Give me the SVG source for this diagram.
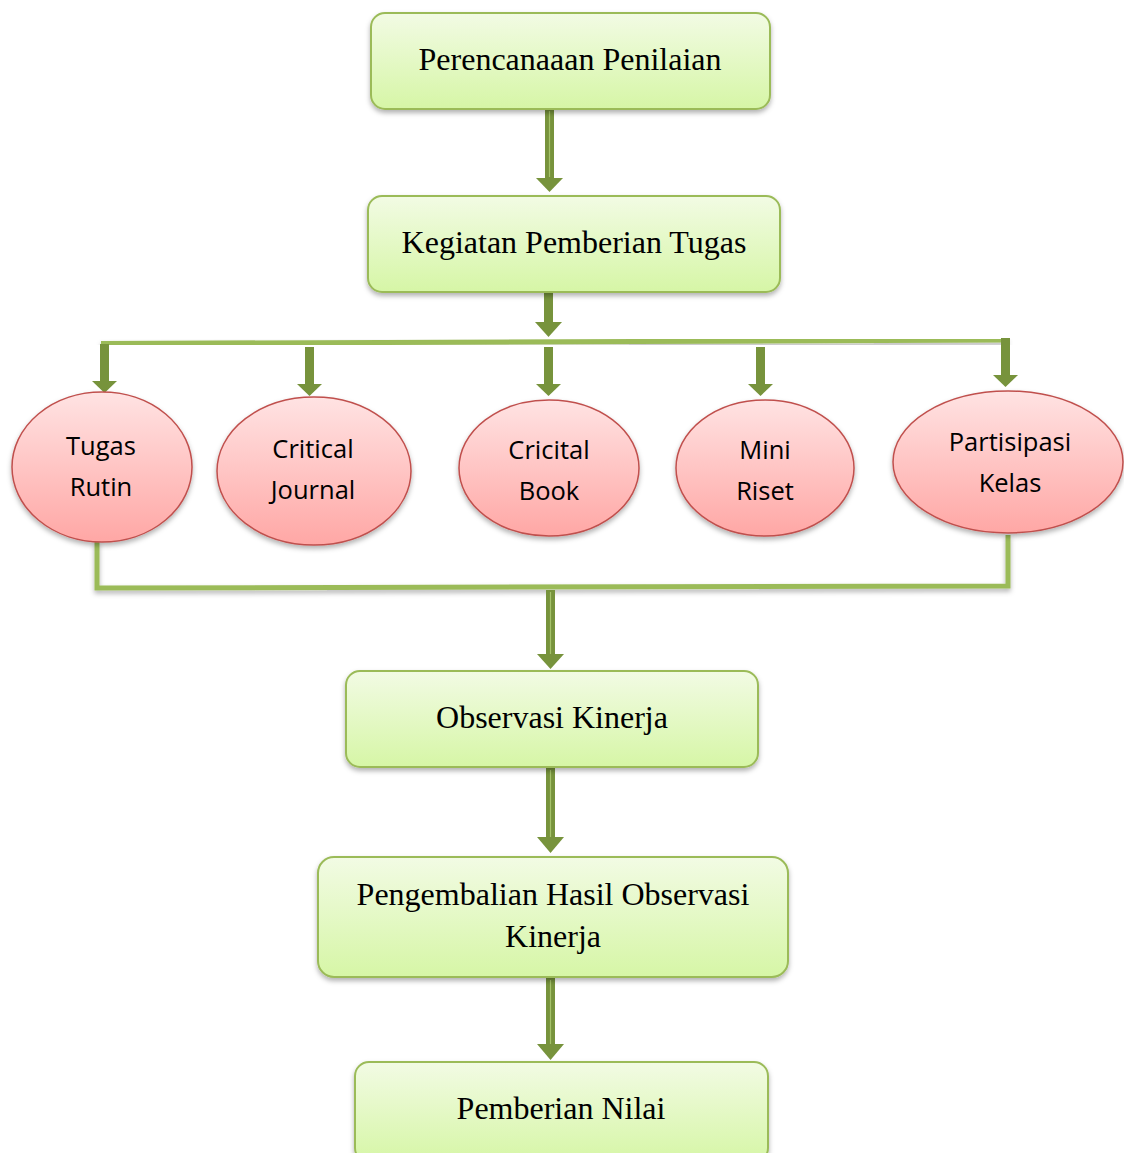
<svg xmlns="http://www.w3.org/2000/svg" width="1124" height="1153" viewBox="0 0 1124 1153">
<defs>
<linearGradient id="gBox" x1="0" y1="0" x2="0" y2="1">
<stop offset="0" stop-color="#F2FBE4"/>
<stop offset="1" stop-color="#D6F6A6"/>
</linearGradient>
<linearGradient id="gEll" x1="0" y1="0" x2="0" y2="1">
<stop offset="0" stop-color="#FFE3E3"/>
<stop offset="1" stop-color="#FFA7A5"/>
</linearGradient>
<filter id="sh" x="-10%" y="-10%" width="120%" height="130%">
<feDropShadow dx="0" dy="3" stdDeviation="2.5" flood-color="#000" flood-opacity="0.3"/>
</filter>
</defs>
<style>
.box{fill:url(#gBox);stroke:#9BBB59;stroke-width:2;filter:url(#sh)}
.ell{fill:url(#gEll);stroke:#C0504D;stroke-width:1.5;filter:url(#sh)}
.bt{font-family:"Liberation Serif","Times New Roman",serif;font-size:32px;fill:#000;text-anchor:middle}
.et{font-family:"Open Sans","Liberation Sans",sans-serif;font-size:25.5px;fill:#000;text-anchor:middle}
.bar{fill:none;stroke:#9BBB59;stroke-width:5;filter:url(#sh)}
.shaft{fill:#77933C}
.hl{stroke:#A5C26A;stroke-width:1.2}
</style>

<g id="connectors">
<g id="a1"><rect class="shaft" x="545" y="109" width="9" height="70"/><line class="hl" x1="549.5" y1="111" x2="549.5" y2="177"/><polygon class="shaft" points="536,178 563,178 549.5,192"/></g>
<g id="a2"><rect class="shaft" x="544" y="292" width="9" height="31"/><polygon class="shaft" points="535,322 562,322 548.5,337"/></g>
<polyline class="bar" points="101,343.5 1008,340"/>
<g id="d1"><rect class="shaft" x="100" y="344" width="9" height="38"/><polygon class="shaft" points="92,381 117,381 104.5,393"/></g>
<g id="d2"><rect class="shaft" x="305" y="347" width="9" height="38"/><polygon class="shaft" points="297,384 322,384 309.5,396"/></g>
<g id="d3"><rect class="shaft" x="544" y="347" width="9" height="38"/><polygon class="shaft" points="536,384 561,384 548.5,396"/></g>
<g id="d4"><rect class="shaft" x="756" y="347" width="9" height="38"/><polygon class="shaft" points="748,384 773,384 760.5,396"/></g>
<g id="d5"><rect class="shaft" x="1001" y="338" width="9" height="38"/><polygon class="shaft" points="993,375 1018,375 1005.5,387"/></g>
<polyline class="bar" points="97,541 97,588 1008,586 1008,535"/>
<g id="a3"><rect class="shaft" x="546" y="590" width="9" height="65"/><line class="hl" x1="550.5" y1="592" x2="550.5" y2="654"/><polygon class="shaft" points="537,654 564,654 550.5,669"/></g>
<g id="a4"><rect class="shaft" x="546" y="768" width="9" height="70"/><line class="hl" x1="550.5" y1="770" x2="550.5" y2="837"/><polygon class="shaft" points="537,837 564,837 550.5,853"/></g>
<g id="a5"><rect class="shaft" x="546" y="978" width="9" height="67"/><line class="hl" x1="550.5" y1="980" x2="550.5" y2="1044"/><polygon class="shaft" points="537,1044 564,1044 550.5,1060"/></g>
</g>

<g id="n1"><rect class="box" x="371" y="13" width="399" height="96" rx="14"/><text class="bt" x="570" y="70">Perencanaaan Penilaian</text></g>
<g id="n2"><rect class="box" x="368" y="196" width="412" height="96" rx="14"/><text class="bt" x="574" y="253">Kegiatan Pemberian Tugas</text></g>

<g id="e1"><ellipse class="ell" cx="102" cy="467" rx="90" ry="75"/><text class="et" x="101" y="455">Tugas</text><text class="et" x="101" y="496">Rutin</text></g>
<g id="e2"><ellipse class="ell" cx="314" cy="471" rx="97" ry="74"/><text class="et" x="313" y="458">Critical</text><text class="et" x="313" y="499">Journal</text></g>
<g id="e3"><ellipse class="ell" cx="549" cy="468" rx="90" ry="68"/><text class="et" x="549" y="459">Cricital</text><text class="et" x="549" y="500">Book</text></g>
<g id="e4"><ellipse class="ell" cx="765" cy="468" rx="89" ry="68"/><text class="et" x="765" y="459">Mini</text><text class="et" x="765" y="500">Riset</text></g>
<g id="e5"><ellipse class="ell" cx="1008" cy="462" rx="115" ry="71"/><text class="et" x="1010" y="451">Partisipasi</text><text class="et" x="1010" y="492">Kelas</text></g>

<g id="n3"><rect class="box" x="346" y="671" width="412" height="96" rx="14"/><text class="bt" x="552" y="728">Observasi Kinerja</text></g>
<g id="n4"><rect class="box" x="318" y="857" width="470" height="120" rx="16"/><text class="bt" x="553" y="905">Pengembalian Hasil Observasi</text><text class="bt" x="553" y="947">Kinerja</text></g>
<g id="n5"><rect class="box" x="355" y="1062" width="413" height="100" rx="14"/><text class="bt" x="561" y="1119">Pemberian Nilai</text></g>
</svg>
